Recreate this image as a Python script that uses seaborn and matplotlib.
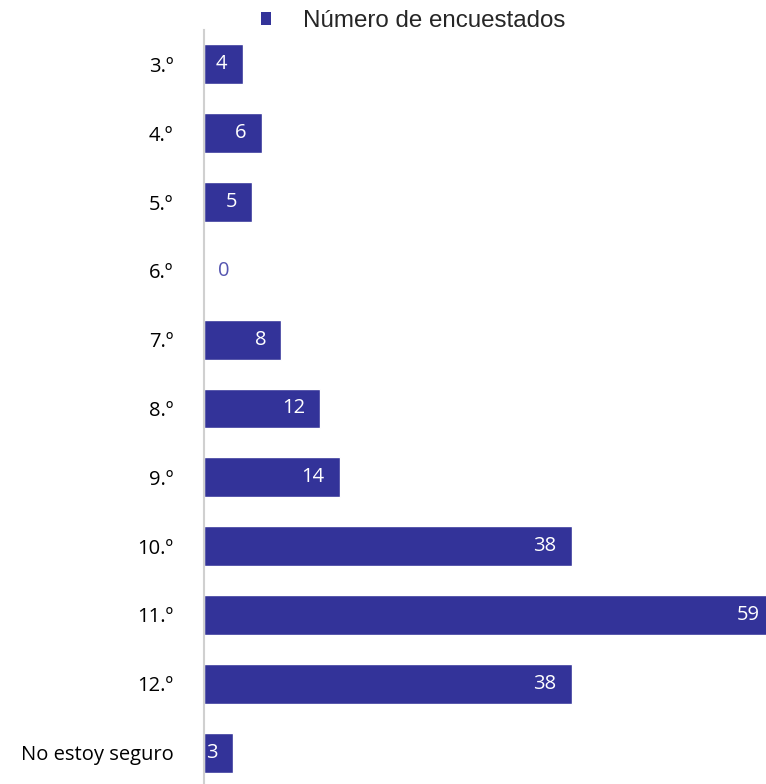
import matplotlib
matplotlib.use('Agg')
import matplotlib.pyplot as plt
from matplotlib.patches import Patch
import seaborn as sns
import pandas as pd

# ============================================
# DATA
# ============================================
categories = ['3.º', '4.º', '5.º', '6.º', '7.º', '8.º', '9.º',
              '10.º', '11.º', '12.º', 'No estoy seguro']
values = [4, 6, 5, 0, 8, 12, 14, 38, 59, 38, 3]
series_name = 'Número de encuestados'

BAR_COLOR = '#333399'
ZERO_COLOR = '#5555b0'

df = pd.DataFrame({'grado': categories, 'n': values})

sns.set_style('white')
plt.rcParams['font.family'] = ['Open Sans', 'DejaVu Sans']

W, H = 766, 784
fig = plt.figure(figsize=(W / 100, H / 100), dpi=100)
# axes from x=204 px to right edge; last bar is clipped like the source
ax = fig.add_axes([204 / W, -3 / H, (W - 204) / W, (H - 30 + 3) / H])

sns.barplot(data=df, x='n', y='grado', orient='h', color=BAR_COLOR,
            width=0.58, saturation=1, ax=ax)

ax.set_xlim(0, 58.06)
ax.set_ylim(len(categories) - 0.5, -0.5)
ax.set_xlabel('')
ax.set_ylabel('')
ax.set_xticks([])
ax.tick_params(axis='y', length=0, pad=22, labelsize=14.5, labelcolor='black')

for side in ['top', 'right', 'bottom']:
    ax.spines[side].set_visible(False)
ax.spines['left'].set_color('#d0d0d0')
ax.spines['left'].set_linewidth(1.5)

# value labels (inside end, zero outside)
for i, v in enumerate(values):
    if v == 0:
        ax.annotate(str(v), xy=(0, i), xytext=(10, 0), textcoords='offset points',
                    ha='left', va='center', color=ZERO_COLOR, fontsize=14.5,
                    annotation_clip=False)
    else:
        ax.annotate(str(v), xy=(v, i), xytext=(-11, 0), textcoords='offset points',
                    ha='right', va='center', color='white', fontsize=14.5,
                    annotation_clip=False)

handle = Patch(facecolor=BAR_COLOR, edgecolor='none')
fig.legend([handle], [series_name], loc='center', bbox_to_anchor=(413 / W, 1 - 21 / H),
           frameon=False, handlelength=0.42, handleheight=0.42, handletextpad=1.3,
           borderpad=0, prop={'family': 'Liberation Sans', 'size': 17.4})

fig.savefig('out.png', dpi=100)
